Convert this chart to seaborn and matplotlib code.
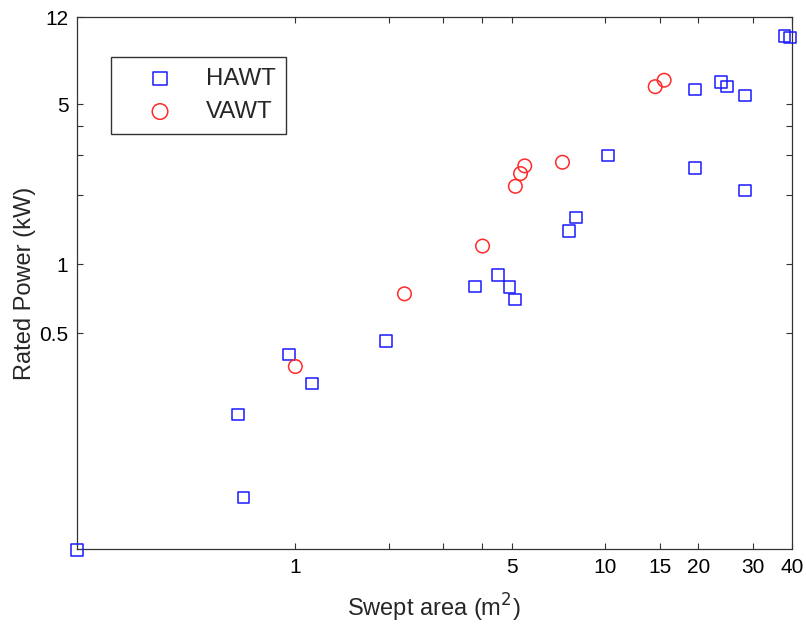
import numpy as np
import pandas as pd
import seaborn as sns
import matplotlib.pyplot as plt

# Swept area (m^2) and rated power (kW)
hawt_area = [0.197, 0.654, 0.681, 0.954, 1.13, 1.96, 3.80, 4.51, 4.91, 5.11,
             7.65, 8.04, 10.2, 19.5, 19.5, 23.7, 24.7, 28.2, 28.2, 37.9, 39.4]
hawt_power = [0.0563, 0.220, 0.0956, 0.403, 0.301, 0.462, 0.80, 0.898, 0.793, 0.701,
              1.40, 1.60, 2.99, 5.80, 2.64, 6.26, 5.99, 5.47, 2.10, 9.94, 9.78]
vawt_area = [1.0, 2.25, 4.02, 5.13, 5.33, 5.50, 7.28, 14.5, 15.5]
vawt_power = [0.357, 0.742, 1.20, 2.19, 2.49, 2.69, 2.79, 5.97, 6.37]

xticks = [1, 2, 3, 4, 5, 10, 15, 20, 30, 40]
xticklabels = ["1", "", "", "", "5", "10", "15", "20", "30", "40"]
yticks = [0.5, 1, 2, 3, 4, 5, 12]
yticklabels = ["0.5", "1", "", "", "", "5", "12"]

hawt = pd.DataFrame({"area": hawt_area, "power": hawt_power})
vawt = pd.DataFrame({"area": vawt_area, "power": vawt_power})

sns.set_style("ticks")
plt.rcParams["font.family"] = ["Liberation Sans", "DejaVu Sans"]

fig = plt.figure(figsize=(8.06, 6.25), dpi=100)
ax = fig.add_axes([0.0952, 0.1211, 0.8871, 0.8512])

sns.scatterplot(data=hawt, x="area", y="power", marker="s", s=70,
                facecolor="none", edgecolor="#1a1aff", linewidth=1.1,
                label="HAWT", ax=ax, clip_on=False, zorder=3)
sns.scatterplot(data=vawt, x="area", y="power", marker="o", s=95,
                facecolor="none", edgecolor="#ff2a2a", linewidth=1.1,
                label="VAWT", ax=ax, clip_on=False, zorder=3)

ax.set_xscale("log")
ax.set_yscale("log")
ax.set_xlim(0.197, 40)
ax.set_ylim(0.0567, 12)

ax.set_xticks(xticks)
ax.set_xticklabels(xticklabels)
ax.set_yticks(yticks)
ax.set_yticklabels(yticklabels)
ax.minorticks_off()
ax.tick_params(which="both", direction="in", length=4.5, width=0.8,
               top=True, right=True, labelsize=15, colors="#333333",
               labelcolor="black", pad=6)

for sp in ax.spines.values():
    sp.set_color("#333333")
    sp.set_linewidth(0.9)

ax.set_xlabel("Swept area (m$^2$)", fontsize=17, labelpad=11)
ax.set_ylabel("Rated Power (kW)", fontsize=17, labelpad=2)

ax.legend(loc="upper left", bbox_to_anchor=(0.0476, 0.925), fontsize=17.3,
          frameon=True, fancybox=False, edgecolor="#333333", framealpha=1,
          borderpad=0.45, handlelength=3.2, handletextpad=0.3,
          labelspacing=0.45, borderaxespad=0, markerscale=1.15)

fig.savefig("out.png", dpi=100)
